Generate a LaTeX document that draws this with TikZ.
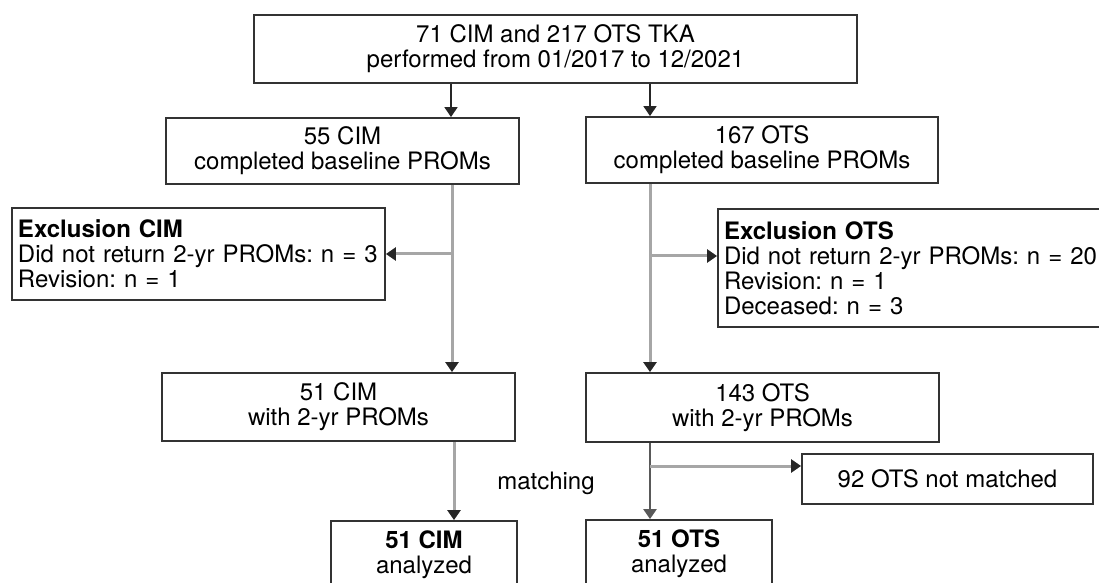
\documentclass[tikz,border=0pt]{standalone}
\usepackage{fontspec}
\setmainfont{TeX Gyre Heros}
\usetikzlibrary{arrows.meta}

\begin{document}
\begin{tikzpicture}[x=0.5pt,y=-0.5pt,
        box/.style={draw=black!80, line width=0.9pt, align=center, inner sep=0pt,
            font=\fontsize{12}{12.5}\selectfont\frenchspacing},
        exbox/.style={box, align=left, inner xsep=3pt},
        link/.style={black!35, line width=1.5pt, -{Triangle[width=6.5pt,length=5pt,color=black!85]}},
        main/.style={black!85, line width=0.8pt, -{Triangle[width=6.5pt,length=5pt]}}]
    \useasboundingbox (0,0) rectangle (1099,583);
    \clip (0,0) rectangle (1099,583);

    % boxes
    \node[box, minimum width=301.5pt, minimum height=34pt] (all) at (555.5,49)
        {71 CIM and 217 OTS TKA\\performed from 01/2017 to 12/2021};
    \node[box, minimum width=176.5pt, minimum height=33pt] (cimBase) at (342.5,151)
        {55 CIM\\completed baseline PROMs};
    \node[box, minimum width=176pt, minimum height=33pt] (otsBase) at (762,150)
        {167 OTS\\completed baseline PROMs};
    \node[exbox, text width=180.5pt, minimum height=46pt] (cimExcl) at (198.5,254)
        {\textbf{Exclusion CIM}\\Did not return 2-yr PROMs: n = 3\\Revision: n = 1};
    \node[exbox, text width=195pt, minimum height=59pt] (otsExcl) at (919,268)
        {\textbf{Exclusion OTS}\\Did not return 2-yr PROMs: n = 20\\Revision: n = 1\\Deceased: n = 3};
    \node[box, minimum width=176.5pt, minimum height=34pt] (cimTwo) at (338.5,407)
        {51 CIM\\with 2-yr PROMs};
    \node[box, minimum width=176.5pt, minimum height=34.5pt] (otsTwo) at (762.5,407.5)
        {143 OTS\\with 2-yr PROMs};
    \node[box, minimum width=145.5pt, minimum height=25pt] (otsNot) at (947.5,479)
        {92 OTS not matched};
    \node[box, minimum width=93pt, minimum height=34pt] (cimFin) at (424,555)
        {\textbf{51 CIM}\\analyzed};
    \node[box, minimum width=93pt, minimum height=34pt] (otsFin) at (679,554)
        {\textbf{51 OTS}\\analyzed};
    \node[font=\fontsize{12}{12.5}\selectfont] (match) at (546,483) {matching};

    % split points
    \coordinate (xTop) at (451,0);
    \coordinate (cimSplit) at (452,254);
    \coordinate (otsSplit) at (650,256);
    \coordinate (xMatch) at (454,0);
    \coordinate (matchSplit) at (650,466);

    % connectors
    \draw[main] (all.south -| xTop) -- (cimBase.north -| xTop);
    \draw[main] (all.south -| otsSplit) -- (otsBase.north -| otsSplit);
    \draw[link] (cimBase.south -| cimSplit) -- (cimTwo.north -| cimSplit);
    \draw[link] (cimSplit) -- (cimExcl.east);
    \draw[link] (otsBase.south -| otsSplit) -- (otsTwo.north -| otsSplit);
    \draw[link] (otsSplit) -- (otsSplit -| otsExcl.west);
    \draw[link] (cimTwo.south -| xMatch) -- (cimFin.north -| xMatch);
    \draw[main, black!65, line width=1.2pt] (otsTwo.south -| matchSplit) -- (otsFin.north -| matchSplit);
    \draw[link] (matchSplit) -- (matchSplit -| otsNot.west);
\end{tikzpicture}
\end{document}
